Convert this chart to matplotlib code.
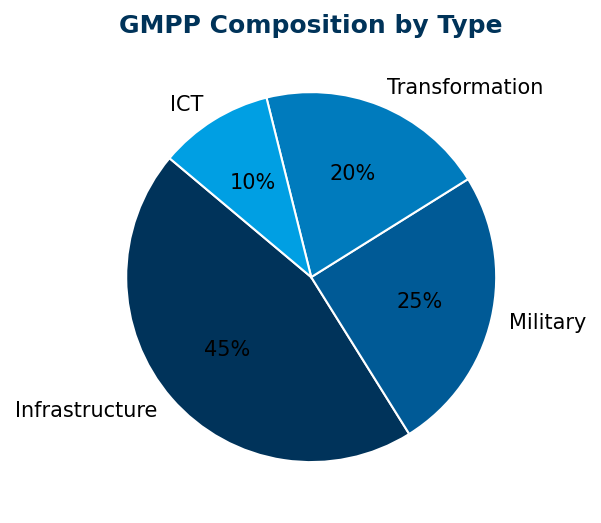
import matplotlib
matplotlib.use("Agg")
import matplotlib.pyplot as plt

labels = ["Infrastructure", "Military", "Transformation", "ICT"]
shares = [45, 25, 20, 10]
colors = ["#00335a", "#005a96", "#007bbd", "#009fe3"]

fig = plt.figure(figsize=(6.01, 5.23), dpi=100)
ax = fig.add_axes([0.133, 0.028, 0.7696, 0.8843])

wedges, texts, autotexts = ax.pie(
    shares, labels=labels, colors=colors, startangle=140,
    autopct="%1.0f%%", wedgeprops=dict(edgecolor="white", linewidth=1.5),
    textprops=dict(fontsize=15)
)

fig.text(0.517, 0.950, "GMPP Composition by Type", ha="center", va="center",
         fontsize=18, fontweight="bold", color="#003359")

fig.savefig("out.png", dpi=100)
